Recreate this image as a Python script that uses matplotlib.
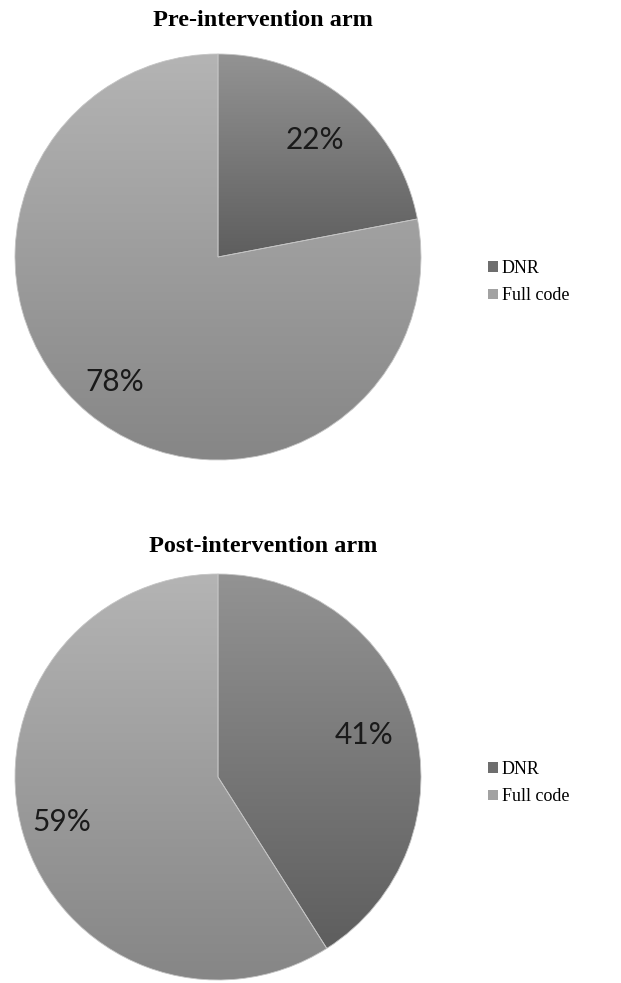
import matplotlib.pyplot as plt
import numpy as np
from matplotlib.colors import LinearSegmentedColormap
from matplotlib.patches import Patch

# code status share in each study arm
labels = ["DNR", "Full code"]
pre_arm = [22, 78]
post_arm = [41, 59]
titles = ["Pre-intervention arm", "Post-intervention arm"]

# top/bottom grey shades for each wedge (vertical gradient)
grad = {
    "DNR": ("#939393", "#5e5e5e"),
    "Full code": ("#b4b4b4", "#868686"),
}
legend_color = {"DNR": "#6e6e6e", "Full code": "#a2a2a2"}

W, H = 621, 983
fig = plt.figure(figsize=(W / 100, H / 100), dpi=100)

R_PX = 203
centers = [(218, 257), (218, 777)]      # pie centres in pixels from top-left
title_y = [21, 547]
legend_y = [282, 783]
label_r = {"DNR": 0.75, "Full code": 0.80}


def grad_pie(ax, values):
    wedges, texts = ax.pie(values, startangle=90, counterclock=False,
                           radius=1.0, center=(0, 0))
    for w, lab in zip(wedges, labels):
        top, bot = grad[lab]
        cmap = LinearSegmentedColormap.from_list(lab, [bot, top])
        ext = w.get_path().get_extents()
        g = np.linspace(0, 1, 256).reshape(-1, 1)
        im = ax.imshow(g, cmap=cmap, origin="lower", aspect="auto",
                       extent=(ext.x0, ext.x1, ext.y0, ext.y1), zorder=1)
        im.set_clip_path(w)
        w.set_facecolor("none")
        w.set_edgecolor("#c4c4c4")
        w.set_linewidth(0.6)
        w.set_zorder(2)
    return wedges


for i, vals in enumerate([pre_arm, post_arm]):
    cx, cy = centers[i]
    ax = fig.add_axes([(cx - R_PX) / W, 1 - (cy + R_PX) / H,
                       2 * R_PX / W, 2 * R_PX / H])
    wedges = grad_pie(ax, vals)
    ax.set_xlim(-1, 1)
    ax.set_ylim(-1, 1)
    ax.set_aspect("equal")
    ax.axis("off")

    # percentage labels on each wedge's mid-angle
    theta = 90.0
    for w, v, lab in zip(wedges, vals, labels):
        mid = np.deg2rad(theta - v * 3.6 / 2)
        r = label_r[lab]
        ax.text(r * np.cos(mid), r * np.sin(mid), f"{v}%",
                ha="center", va="center", fontsize=21.5, family="Lato",
                color="#1a1a1a", zorder=3)
        theta -= v * 3.6

    fig.text(263 / W, 1 - title_y[i] / H, titles[i], ha="center", va="center",
             fontsize=17.5, fontweight="bold", family="Liberation Serif")

    handles = [Patch(facecolor=legend_color[l], edgecolor="none") for l in labels]
    fig.legend(handles, labels, loc="center left",
               bbox_to_anchor=(472 / W, 1 - legend_y[i] / H),
               frameon=False, handlelength=0.55, handleheight=0.55,
               handletextpad=0.2, labelspacing=0.6,
               prop={"family": "Liberation Serif", "size": 13})

fig.savefig("out.png", dpi=100, facecolor="white")
